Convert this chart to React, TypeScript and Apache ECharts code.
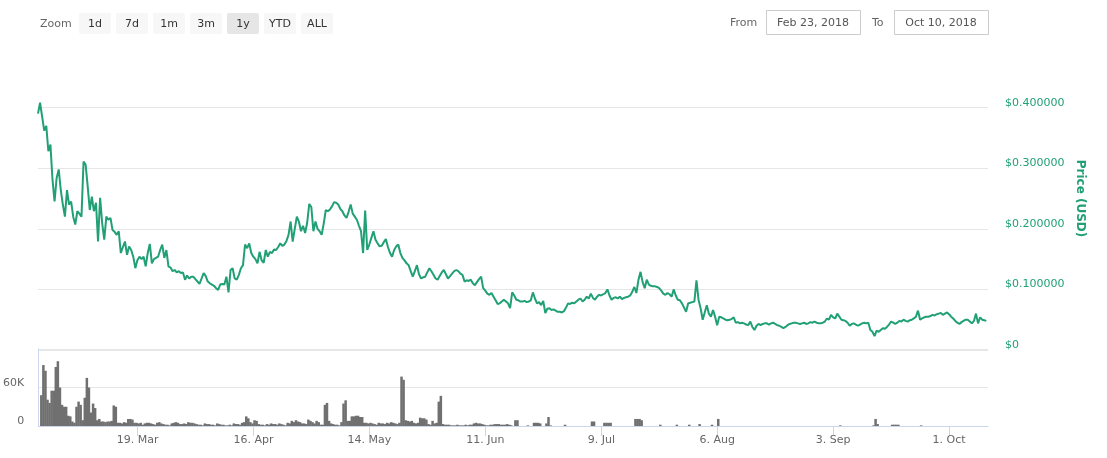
import React, { useEffect, useRef } from "react";
import * as echarts from "echarts";

const DAY = 86400000;
const HALF = DAY / 2;
const START = Date.UTC(2018, 1, 23);
const END = START + 229.4 * DAY;

// price in USD, one value every 12 hours from Feb 23, 2018
const priceUsd = [
  0.390,0.408,0.385,0.362,0.370,0.328,0.339,0.281,0.245,0.284,
  0.298,0.264,0.240,0.220,0.264,0.240,0.245,0.220,0.207,0.229,
  0.225,0.220,0.311,0.306,0.270,0.231,0.253,0.229,0.243,0.179,
  0.251,0.209,0.182,0.220,0.215,0.218,0.198,0.195,0.190,0.196,
  0.160,0.170,0.179,0.157,0.171,0.165,0.154,0.135,0.148,0.154,
  0.150,0.154,0.138,0.160,0.175,0.143,0.150,0.152,0.154,0.165,
  0.174,0.152,0.165,0.138,0.136,0.130,0.132,0.128,0.130,0.127,
  0.128,0.116,0.123,0.118,0.121,0.121,0.117,0.113,0.109,0.118,
  0.127,0.122,0.113,0.110,0.108,0.106,0.102,0.099,0.108,0.109,
  0.108,0.121,0.095,0.132,0.135,0.118,0.116,0.124,0.135,0.140,
  0.174,0.168,0.176,0.160,0.154,0.150,0.143,0.162,0.148,0.144,
  0.165,0.154,0.162,0.160,0.166,0.165,0.170,0.176,0.172,0.174,
  0.180,0.190,0.212,0.179,0.200,0.220,0.212,0.196,0.205,0.193,
  0.210,0.241,0.236,0.196,0.212,0.200,0.196,0.190,0.209,0.231,
  0.229,0.232,0.237,0.244,0.243,0.240,0.233,0.229,0.222,0.218,
  0.228,0.240,0.225,0.220,0.215,0.205,0.196,0.160,0.230,0.165,
  0.174,0.185,0.196,0.182,0.176,0.171,0.172,0.178,0.183,0.170,
  0.160,0.154,0.165,0.171,0.174,0.160,0.152,0.148,0.143,0.140,
  0.130,0.121,0.130,0.140,0.125,0.118,0.120,0.121,0.128,0.135,
  0.130,0.124,0.118,0.116,0.122,0.128,0.132,0.125,0.118,0.122,
  0.126,0.130,0.132,0.130,0.126,0.124,0.113,0.115,0.114,0.116,
  0.110,0.107,0.112,0.117,0.121,0.102,0.098,0.093,0.091,0.094,
  0.088,0.082,0.076,0.077,0.080,0.083,0.080,0.077,0.069,0.095,
  0.090,0.083,0.082,0.080,0.080,0.081,0.079,0.080,0.082,0.095,
  0.085,0.077,0.079,0.074,0.081,0.061,0.068,0.069,0.066,0.067,
  0.065,0.063,0.063,0.062,0.064,0.070,0.077,0.076,0.078,0.077,
  0.080,0.083,0.085,0.080,0.083,0.088,0.085,0.093,0.086,0.083,
  0.088,0.091,0.090,0.092,0.094,0.100,0.090,0.083,0.086,0.087,
  0.085,0.088,0.084,0.086,0.087,0.088,0.090,0.096,0.104,0.094,
  0.116,0.129,0.112,0.102,0.116,0.108,0.106,0.105,0.105,0.104,
  0.102,0.098,0.093,0.091,0.094,0.092,0.088,0.100,0.090,0.083,
  0.082,0.077,0.070,0.063,0.077,0.078,0.079,0.080,0.115,0.083,
  0.069,0.050,0.062,0.074,0.060,0.055,0.066,0.055,0.041,0.055,
  0.054,0.052,0.050,0.049,0.050,0.051,0.054,0.045,0.046,0.044,
  0.045,0.044,0.042,0.041,0.047,0.038,0.033,0.040,0.043,0.041,
  0.043,0.044,0.044,0.042,0.044,0.045,0.043,0.041,0.040,0.038,
  0.036,0.038,0.041,0.043,0.044,0.045,0.045,0.044,0.043,0.044,
  0.045,0.043,0.044,0.046,0.045,0.047,0.045,0.044,0.044,0.045,
  0.047,0.052,0.050,0.058,0.054,0.052,0.060,0.055,0.050,0.049,
  0.048,0.045,0.040,0.043,0.044,0.042,0.040,0.042,0.044,0.045,
  0.044,0.045,0.033,0.030,0.023,0.032,0.030,0.033,0.036,0.035,
  0.038,0.042,0.047,0.045,0.043,0.045,0.048,0.047,0.050,0.048,
  0.047,0.049,0.050,0.052,0.055,0.065,0.050,0.052,0.054,0.055,
  0.055,0.056,0.058,0.057,0.059,0.060,0.061,0.058,0.060,0.062,
  0.059,0.055,0.052,0.048,0.045,0.043,0.046,0.048,0.050,0.050,
  0.047,0.044,0.048,0.060,0.044,0.054,0.050,0.049,0.048,
];

// volume in thousands, one bar every 12 hours from Feb 23, 2018
const volumeK = [
  0,48,95,86,41,36,55,55,92,101,
  60,33,30,30,16,15,7,5,30,38,
  33,9,44,75,60,21,35,28,9,11,
  7,7,6,7,7,8,32,30,5,5,
  4,6,5,11,11,10,5,5,4,5,
  2,4,5,5,4,3,2,5,6,4,
  3,2,2,1,4,5,6,5,3,3,
  4,3,6,5,5,4,3,2,2,1,
  4,3,3,2,2,1,4,3,2,2,
  1,1,2,1,4,3,3,2,5,6,
  15,12,6,4,9,8,3,2,2,1,
  3,2,4,3,3,2,4,3,2,1,
  5,4,8,6,9,7,6,4,4,3,
  10,8,6,4,8,6,2,2,33,36,
  8,4,3,2,2,1,6,35,40,8,
  8,15,15,16,16,14,14,5,5,4,
  5,4,3,2,5,4,4,3,5,4,
  6,5,4,3,5,77,72,9,8,7,
  8,5,4,5,13,12,12,10,3,2,
  8,4,5,38,47,3,2,2,2,1,
  1,1,2,1,1,1,2,1,2,2,
  4,5,4,4,3,2,1,1,2,2,
  3,3,3,2,2,2,3,2,1,0,
  9,9,0,0,0,0,1,0,0,5,
  5,5,4,0,0,4,14,1,0,0,
  0,0,0,0,2,0,0,0,0,0,
  0,0,0,0,0,0,0,7,7,0,
  0,0,0,5,5,5,5,0,0,0,
  0,0,0,0,0,0,0,0,11,11,
  11,9,0,0,0,0,0,0,0,0,
  2,0,0,0,0,0,0,0,2,0,
  0,0,0,0,2,0,0,0,0,3,
  0,0,0,0,0,2,0,0,11,0,
  0,0,0,0,0,0,0,0,0,0,
  0,0,0,0,0,0,0,0,0,0,
  0,0,0,0,0,0,0,0,0,0,
  0,0,0,0,0,0,0,0,0,0,
  0,0,0,0,0,0,0,0,0,0,
  0,0,0,0,0,0,0,1,0,0,
  0,0,0,0,0,0,0,0,0,0,
  0,0,0,1,11,3,0,0,0,0,
  0,0,2,2,2,2,0,0,0,0,
  0,0,0,0,0,0,1,0,0,0,
  0,0,0,0,0,0,0,0,0,0,
  0,0,0,0,0,0,0,0,0,0,
  0,0,0,0,0,0,0,0,0,0,
];

const tickDates = [
  [2018, 2, 19], [2018, 3, 16], [2018, 4, 14], [2018, 5, 11],
  [2018, 6, 9], [2018, 7, 6], [2018, 8, 3], [2018, 9, 1],
];
const MONTHS = ["Jan", "Feb", "Mar", "Apr", "May", "Jun", "Jul", "Aug", "Sep", "Oct", "Nov", "Dec"];
const rangeButtons = ["1d", "7d", "1m", "3m", "1y", "YTD", "ALL"];
const selectedRange = "1y";
const fromLabel = "Feb 23, 2018";
const toLabel = "Oct 10, 2018";

const GREEN = "#21a075";
const FONT = "DejaVu Sans";

export default function App() {
  const ref = useRef<HTMLDivElement>(null);
  useEffect(() => {
    document.body.style.margin = "0";
    const chart = echarts.init(ref.current!, null, { renderer: "svg" });
    const ticks = tickDates.map(([y, m, d]) => Date.UTC(y, m, d));
    const priceData = priceUsd.map((v, i) => [START + i * HALF, v]);
    const volData = volumeK.map((v, i) => [START + i * HALF + HALF / 2, v * 1000]);

    const txt = (text: string, x: number, y: number, fill: string, align: string) => ({
      type: "text", x, y,
      style: { text, fill, font: `11px "${FONT}"`, textAlign: align, textVerticalAlign: "middle" },
    });
    const graphic: any[] = [txt("Zoom", 40, 23, "#666", "left")];
    rangeButtons.forEach((b, i) => {
      const x = 79 + i * 37;
      graphic.push({
        type: "rect", shape: { x, y: 13, width: 32, height: 21, r: 2 },
        style: { fill: b === selectedRange ? "#e6e6e6" : "#f7f7f7" },
      });
      graphic.push(txt(b, x + 16, 23.5, "#333", "center"));
    });
    graphic.push(
      txt("From", 730, 22, "#666", "left"),
      { type: "rect", shape: { x: 766.5, y: 10.5, width: 94, height: 24 }, style: { fill: "#fff", stroke: "#cccccc", lineWidth: 1 } },
      txt(fromLabel, 813, 22.5, "#555", "center"),
      txt("To", 872, 22, "#666", "left"),
      { type: "rect", shape: { x: 894.5, y: 10.5, width: 94, height: 24 }, style: { fill: "#fff", stroke: "#cccccc", lineWidth: 1 } },
      txt(toLabel, 941, 22.5, "#555", "center"),
    );

    chart.setOption({
      animation: false,
      textStyle: { fontFamily: FONT },
      graphic,
      grid: [
        { left: 38, right: 119, top: 47, height: 303 },
        { left: 38, right: 119, top: 349, height: 77 },
      ],
      xAxis: [
        { type: "value", gridIndex: 0, min: START, max: END, show: false },
        {
          type: "value", gridIndex: 1, min: START, max: END,
          axisLine: { show: true, onZero: false, lineStyle: { color: "#ccd6eb" } },
          axisTick: { show: true, length: 10, customValues: ticks, lineStyle: { color: "#ccd6eb" } },
          axisLabel: {
            customValues: ticks, color: "#666", fontSize: 11, margin: 8, fontFamily: FONT,
            formatter: (v: number) => { const d = new Date(v); return `${d.getUTCDate()}. ${MONTHS[d.getUTCMonth()]}`; },
          },
          splitLine: { show: false },
        },
      ],
      yAxis: [
        {
          type: "value", gridIndex: 0, position: "right", min: 0, max: 0.5, interval: 0.1,
          name: "Price (USD)", nameLocation: "middle", nameRotate: -90, nameGap: 86,
          nameTextStyle: { color: GREEN, fontWeight: "bold", fontSize: 12, fontFamily: FONT },
          axisLine: { show: false }, axisTick: { show: false },
          axisLabel: {
            color: GREEN, fontSize: 11, margin: 17, verticalAlign: "bottom", fontFamily: FONT,
            formatter: (v: number) => (v === 0 ? "$0" : v > 0.45 ? "" : "$" + v.toFixed(6)),
          },
          splitLine: { lineStyle: { color: ["#e6e6e6", "#e6e6e6", "#e6e6e6", "#e6e6e6", "#e6e6e6", "rgba(0,0,0,0)"] } },
        },
        {
          type: "value", gridIndex: 1, position: "left", min: 0, max: 120000, interval: 60000,
          axisLine: { show: true, onZero: false, lineStyle: { color: "#ccd6eb" } }, axisTick: { show: false },
          axisLabel: {
            color: "#666", fontSize: 11, margin: 14, verticalAlign: "bottom", fontFamily: FONT,
            formatter: (v: number) => (v === 0 ? "0" : v >= 120000 ? "" : v / 1000 + "K"),
          },
          splitLine: { lineStyle: { color: "#e6e6e6" } },
        },
      ],
      series: [
        {
          type: "line", xAxisIndex: 0, yAxisIndex: 0, data: priceData, showSymbol: false,
          lineStyle: { color: GREEN, width: 2 }, itemStyle: { color: GREEN },
        },
        {
          type: "bar", xAxisIndex: 1, yAxisIndex: 1, data: volData, barWidth: 2.5,
          itemStyle: { color: "#707070" },
        },
      ],
    });
    return () => chart.dispose();
  }, []);
  return <div ref={ref} style={{ position: "fixed", left: 0, top: 0, width: 1107, height: 458 }} />;
}
